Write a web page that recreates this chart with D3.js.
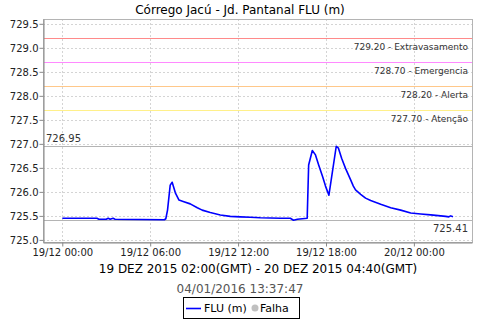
<!DOCTYPE html>
<html>
<head>
<meta charset="utf-8">
<script src="https://cdn.jsdelivr.net/npm/d3@7"></script>
<style>
  body { margin: 0; background: #fff; }
  svg { display: block; font-family: "DejaVu Sans", sans-serif; }
</style>
</head>
<body>
<script>
const WIDTH_SVG = 480;
const HEIGHT_SVG = 320;

// data (local time, 19/12/2015 -> 20/12/2015)
const times = [
    "19/12/2015 00:00", "19/12/2015 02:22", "19/12/2015 02:30", "19/12/2015 03:00",
    "19/12/2015 03:08", "19/12/2015 03:16", "19/12/2015 03:28", "19/12/2015 03:36",
    "19/12/2015 06:58", "19/12/2015 07:04", "19/12/2015 07:11", "19/12/2015 07:22",
    "19/12/2015 07:30", "19/12/2015 07:43", "19/12/2015 07:58", "19/12/2015 08:15",
    "19/12/2015 08:44", "19/12/2015 09:13", "19/12/2015 09:33", "19/12/2015 10:06",
    "19/12/2015 10:47", "19/12/2015 11:28", "19/12/2015 12:09", "19/12/2015 12:50",
    "19/12/2015 13:31", "19/12/2015 14:53", "19/12/2015 15:34", "19/12/2015 15:47",
    "19/12/2015 16:03", "19/12/2015 16:43", "19/12/2015 16:49", "19/12/2015 17:04",
    "19/12/2015 17:17", "19/12/2015 17:30", "19/12/2015 17:46", "19/12/2015 17:58",
    "19/12/2015 18:12", "19/12/2015 18:42", "19/12/2015 18:51", "19/12/2015 19:04",
    "19/12/2015 19:20", "19/12/2015 19:41", "19/12/2015 19:52", "19/12/2015 20:01",
    "19/12/2015 20:22", "19/12/2015 20:42", "19/12/2015 21:03", "19/12/2015 21:44",
    "19/12/2015 22:25", "19/12/2015 23:06", "19/12/2015 23:47", "20/12/2015 00:28",
    "20/12/2015 01:09", "20/12/2015 01:50", "20/12/2015 02:10", "20/12/2015 02:23",
    "20/12/2015 02:31", "20/12/2015 02:40"
];
const levels = [
    725.45, 725.45, 725.43, 725.43,
    725.45, 725.43, 725.45, 725.43,
    725.42, 725.44, 725.62, 726.14,
    726.20, 725.98, 725.83, 725.80,
    725.75, 725.67, 725.62, 725.57,
    725.52, 725.49, 725.48, 725.47,
    725.46, 725.45, 725.45, 725.41,
    725.43, 725.45, 726.56, 726.86,
    726.77, 726.56, 726.32, 726.12,
    725.93, 726.95, 726.91, 726.70,
    726.49, 726.25, 726.12, 726.04,
    725.95, 725.87, 725.82, 725.74,
    725.67, 725.62, 725.56, 725.54,
    725.52, 725.50, 725.49, 725.48,
    725.50, 725.48
];

// alert levels
const alertValues = [729.20, 728.70, 728.20, 727.70];
const alertNames = ["Extravasamento", "Emergencia", "Alerta", "Atenção"];
const alertColors = ["#ff8a8a", "#ff8aff", "#ffc88a", "#fff08a"];

const yTicks = [725.0, 725.5, 726.0, 726.5, 727.0, 727.5, 728.0, 728.5, 729.0, 729.5];
const xStart = "18/12/2015 22:41";
const xEnd = "20/12/2015 03:58";

const title = "Córrego Jacú - Jd. Pantanal FLU (m)";
const subtitle = "19 DEZ 2015 02:00(GMT) - 20 DEZ 2015 04:40(GMT)";
const stamp = "04/01/2016 13:37:47";

const PLOT_LEFT = 43;
const PLOT_RIGHT = 472;
const PLOT_TOP = 19;
const PLOT_BOTTOM = 242;

const parse = d3.timeParse("%d/%m/%Y %H:%M");
const data = times.map((t, i) => ({ t: parse(t), v: levels[i] }));

const svg = d3.select("body")
    .append("svg")
        .attr("width", WIDTH_SVG)
        .attr("height", HEIGHT_SVG);

const x = d3.scaleTime()
    .domain([parse(xStart), parse(xEnd)])
    .range([PLOT_LEFT, PLOT_RIGHT]);

const y = d3.scaleLinear()
    .domain([724.956, 729.60])
    .range([PLOT_BOTTOM, PLOT_TOP]);

const xTicks = x.ticks(d3.timeHour.every(6));

// grid
svg.append("g")
    .selectAll("line")
    .data(yTicks)
    .join("line")
        .attr("x1", PLOT_LEFT)
        .attr("x2", PLOT_RIGHT)
        .attr("y1", d => Math.round(y(d)) + 0.5)
        .attr("y2", d => Math.round(y(d)) + 0.5)
        .attr("stroke", "#d4d4d4")
        .attr("stroke-dasharray", "2,2");

svg.append("g")
    .selectAll("line")
    .data(xTicks)
    .join("line")
        .attr("x1", d => Math.round(x(d)) + 0.5)
        .attr("x2", d => Math.round(x(d)) + 0.5)
        .attr("y1", PLOT_TOP)
        .attr("y2", PLOT_BOTTOM)
        .attr("stroke", "#d4d4d4")
        .attr("stroke-dasharray", "2,2");

// plot border
svg.append("rect")
    .attr("x", PLOT_LEFT + 0.5)
    .attr("y", PLOT_TOP + 0.5)
    .attr("width", PLOT_RIGHT - PLOT_LEFT)
    .attr("height", PLOT_BOTTOM - PLOT_TOP)
    .attr("fill", "none")
    .attr("stroke", "#b4b4b4");

// alert lines
alertValues.forEach((v, i) => {
    const yy = Math.round(y(v)) + 0.5;
    svg.append("line")
        .attr("x1", PLOT_LEFT + 1)
        .attr("x2", PLOT_RIGHT)
        .attr("y1", yy)
        .attr("y2", yy)
        .attr("stroke", alertColors[i]);
    svg.append("text")
        .attr("x", 468)
        .attr("y", yy + 11)
        .attr("text-anchor", "end")
        .attr("font-size", 9)
        .attr("fill", "#333")
        .text(`${v.toFixed(2)} - ${alertNames[i]}`);
});

// max / min markers
const vMax = d3.max(levels);
const vMin = d3.min(levels);
[vMax, vMin].forEach(v => {
    svg.append("line")
        .attr("x1", PLOT_LEFT + 1)
        .attr("x2", PLOT_RIGHT)
        .attr("y1", Math.round(y(v)) + 0.5)
        .attr("y2", Math.round(y(v)) + 0.5)
        .attr("stroke", "#b4b4b4");
});
svg.append("text")
    .attr("x", 46)
    .attr("y", y(vMax) - 4)
    .attr("font-size", 10)
    .attr("fill", "#333")
    .text(vMax.toFixed(2));
svg.append("text")
    .attr("x", 468)
    .attr("y", y(vMin) + 12)
    .attr("text-anchor", "end")
    .attr("font-size", 10)
    .attr("fill", "#333")
    .text(vMin.toFixed(2));

// series
svg.append("path")
    .datum(data)
    .attr("fill", "none")
    .attr("stroke", "#0000ff")
    .attr("stroke-width", 1.6)
    .attr("stroke-linejoin", "round")
    .attr("d", d3.line().x(d => x(d.t)).y(d => y(d.v)));

// axes
const yAxis = svg.append("g")
    .attr("transform", `translate(${PLOT_LEFT + 0.5},0)`)
    .call(d3.axisLeft(y).tickValues(yTicks).tickFormat(d3.format(".1f")).tickSize(4).tickSizeOuter(0));
const xAxis = svg.append("g")
    .attr("transform", `translate(0,${PLOT_BOTTOM + 0.5})`)
    .call(d3.axisBottom(x).tickValues(xTicks).tickFormat(d3.timeFormat("%d/%m %H:%M")).tickSize(4).tickSizeOuter(0));

[yAxis, xAxis].forEach(a => {
    a.select(".domain").attr("stroke", "#888");
    a.selectAll(".tick line").attr("stroke", "#888");
    a.selectAll("text")
        .attr("font-family", "DejaVu Sans, sans-serif")
        .attr("font-size", 10)
        .attr("fill", "#222");
});
yAxis.selectAll("text").attr("x", -5);
xAxis.selectAll("text").attr("y", 6);

// titles
svg.append("text")
    .attr("x", 240)
    .attr("y", 14)
    .attr("text-anchor", "middle")
    .attr("font-size", 12)
    .attr("fill", "#000")
    .text(title);

svg.append("text")
    .attr("x", 258)
    .attr("y", 273)
    .attr("text-anchor", "middle")
    .attr("font-size", 12)
    .attr("fill", "#000")
    .text(subtitle);

svg.append("text")
    .attr("x", 240)
    .attr("y", 293)
    .attr("text-anchor", "middle")
    .attr("font-size", 12)
    .attr("fill", "#555")
    .text(stamp);

// legend
const legend = svg.append("g");
legend.append("rect")
    .attr("x", 183.5)
    .attr("y", 297.5)
    .attr("width", 116)
    .attr("height", 21)
    .attr("fill", "#fff")
    .attr("stroke", "#000");
legend.append("line")
    .attr("x1", 186)
    .attr("x2", 201)
    .attr("y1", 308.5)
    .attr("y2", 308.5)
    .attr("stroke", "#0000ff")
    .attr("stroke-width", 1.6);
legend.append("text")
    .attr("x", 204)
    .attr("y", 312)
    .attr("font-size", 11)
    .text("FLU (m)");
legend.append("circle")
    .attr("cx", 255)
    .attr("cy", 308)
    .attr("r", 3.5)
    .attr("fill", "#c0c0c0");
legend.append("text")
    .attr("x", 260)
    .attr("y", 312)
    .attr("font-size", 11)
    .text("Falha");
</script>
</body>
</html>
